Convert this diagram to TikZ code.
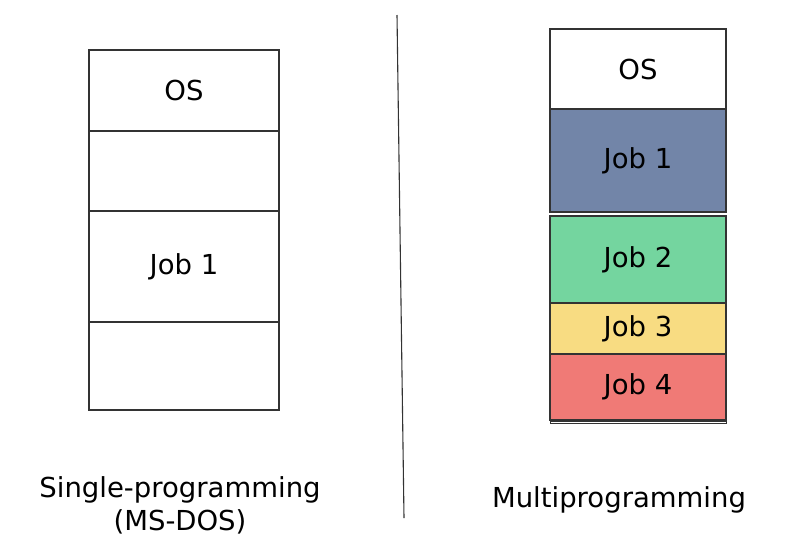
\documentclass[tikz,border=0pt]{standalone}
\usepackage{fontspec}
\setmainfont{DejaVu Sans}
\usepackage{tikz}
\usetikzlibrary{arrows}

\definecolor{jobA}{RGB}{114,133,168}
\definecolor{jobB}{RGB}{116,213,159}
\definecolor{jobC}{RGB}{248,220,130}
\definecolor{jobD}{RGB}{240,122,118}
\definecolor{edge}{RGB}{51,51,51}

\begin{document}
\begin{tikzpicture}[x=1pt,y=-1pt,
	every node/.style={font=\fontsize{27.5}{33}\selectfont},
	cell/.style={rectangle,draw=edge,line width=1.1pt,inner sep=0pt,fill=white},
	lcell/.style={cell,minimum width=190pt},
	rcell/.style={cell,minimum width=176pt}]
	\useasboundingbox (0,0) rectangle (800,558);
	% single-programming
	\node[lcell,minimum height=81pt] (s1) at (184,90.5) {OS};
	\node[lcell,minimum height=80pt] (s2) at (184,171) {};
	\node[lcell,minimum height=111pt] (s3) at (184,266.5) {Job 1};
	\node[lcell,minimum height=88pt] (s4) at (184,366) {};
	
	% multiprogramming
	\node[rcell,minimum height=80pt] (m0) at (638,69) {OS};
	\node[rcell,minimum height=103pt,fill=jobA] (m1) at (638,160.5) {Job 1};
	\node[rcell,minimum height=87pt,fill=jobB] (m2) at (638,259.5) {Job 2};
	\node[rcell,minimum height=51pt,fill=jobC] (m3) at (638,328.5) {Job 3};
	\node[rcell,minimum height=66pt,fill=jobD] (m4) at (638,387) {Job 4};
	\node[rcell,minimum height=2pt,line width=0.8pt] (m5) at (638,422) {};
	
	% divider
	\coordinate (d1) at (397,15);
	\coordinate (d2) at (404,518);
	\draw[edge,line width=1.1pt] (d1) -- (d2);
	
	\node[align=center] (t1) at (180,505) {Single-programming\\(MS-DOS)};
	\node (t2) at (619,500) {Multiprogramming};
	
\end{tikzpicture}
\end{document}
